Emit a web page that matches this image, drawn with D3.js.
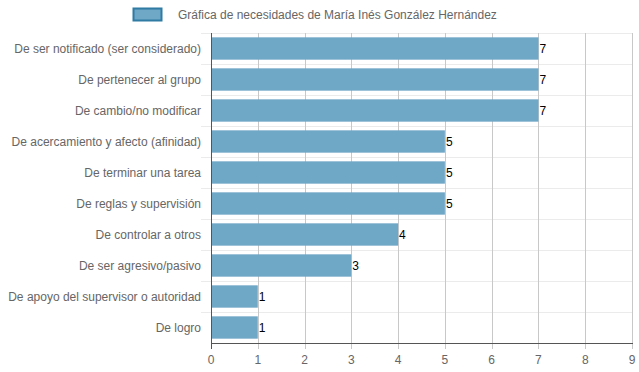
<!DOCTYPE html>
<html>
<head>
<meta charset="utf-8">
<script src="https://cdn.jsdelivr.net/npm/d3@7"></script>
<style>
  body { margin: 0; background: #fff; }
  svg { display: block; font-family: "Liberation Sans", Arial, Helvetica, sans-serif; }
</style>
</head>
<body>
<svg id="chart" width="639" height="372"></svg>
<script>
// data
var legendLabel = 'Gráfica de necesidades de María Inés González Hernández';
var categories = [
  'De ser notificado (ser considerado)',
  'De pertenecer al grupo',
  'De cambio/no modificar',
  'De acercamiento y afecto (afinidad)',
  'De terminar una tarea',
  'De reglas y supervisión',
  'De controlar a otros',
  'De ser agresivo/pasivo',
  'De apoyo del supervisor o autoridad',
  'De logro'
];
var values = [7, 7, 7, 5, 5, 5, 4, 3, 1, 1];
var xTicks = [0, 1, 2, 3, 4, 5, 6, 7, 8, 9];

var svg = d3.select('#chart');
// plot area (note: "top" is a window global, so use other names)
var areaL = 211, areaR = 632, areaT = 33, areaB = 343;

var x = d3.scaleLinear().domain([0, 9]).range([areaL, areaR]);
var y = d3.scaleBand().domain(categories).range([areaT, areaB]);
var barH = y.bandwidth() * 0.72;

// legend
svg.append('rect')
  .attr('x', 133.5).attr('y', 8.5).attr('width', 28).attr('height', 12)
  .attr('fill', '#6fa7c7').attr('stroke', '#2f7ba3').attr('stroke-width', 2);
svg.append('text')
  .attr('x', 178).attr('y', 19)
  .attr('font-size', 12).attr('fill', '#666')
  .text(legendLabel);

// horizontal grid (category boundaries)
var bounds = categories.map(function(c){ return y(c); });
svg.selectAll('.hgrid')
  .data(bounds)
  .enter().append('line')
    .attr('x1', areaL - 10).attr('x2', areaR)
    .attr('y1', function(d){ return Math.round(d) + 0.5; })
    .attr('y2', function(d){ return Math.round(d) + 0.5; })
    .attr('stroke', '#ebebeb');

// vertical grid
svg.selectAll('.vgrid')
  .data(xTicks.slice(1))
  .enter().append('line')
    .attr('x1', function(d){ return Math.round(x(d)) + 0.5; })
    .attr('x2', function(d){ return Math.round(x(d)) + 0.5; })
    .attr('y1', areaT).attr('y2', areaB + 6)
    .attr('stroke', '#c8c8c8');

// bars
svg.selectAll('.bar')
  .data(values)
  .enter().append('rect')
    .attr('x', x(0))
    .attr('y', function(d, i){ return y(categories[i]) + (y.bandwidth() - barH) / 2; })
    .attr('width', function(d){ return x(d) - x(0); })
    .attr('height', barH)
    .attr('fill', '#6fa7c7');

// value labels
svg.selectAll('.val')
  .data(values)
  .enter().append('text')
    .attr('x', function(d){ return x(d) + 1; })
    .attr('y', function(d, i){ return y(categories[i]) + y.bandwidth() / 2 + 4; })
    .attr('font-size', 12).attr('fill', '#000')
    .text(function(d){ return d; });

// axis lines
svg.append('line')
  .attr('x1', areaL).attr('x2', areaR + 1)
  .attr('y1', areaB + 0.5).attr('y2', areaB + 0.5)
  .attr('stroke', '#555');
svg.append('line')
  .attr('x1', areaL + 0.5).attr('x2', areaL + 0.5)
  .attr('y1', areaT).attr('y2', areaB + 6)
  .attr('stroke', '#555');

// x tick labels
svg.selectAll('.xt')
  .data(xTicks)
  .enter().append('text')
    .attr('x', function(d){ return x(d); })
    .attr('y', areaB + 21)
    .attr('text-anchor', 'middle')
    .attr('font-size', 12).attr('fill', '#666')
    .text(function(d){ return d; });

// category labels
svg.selectAll('.yt')
  .data(categories)
  .enter().append('text')
    .attr('x', areaL - 10)
    .attr('y', function(d){ return y(d) + y.bandwidth() / 2 + 4; })
    .attr('text-anchor', 'end')
    .attr('font-size', 12).attr('fill', '#666')
    .text(function(d){ return d; });
</script>
</body>
</html>
